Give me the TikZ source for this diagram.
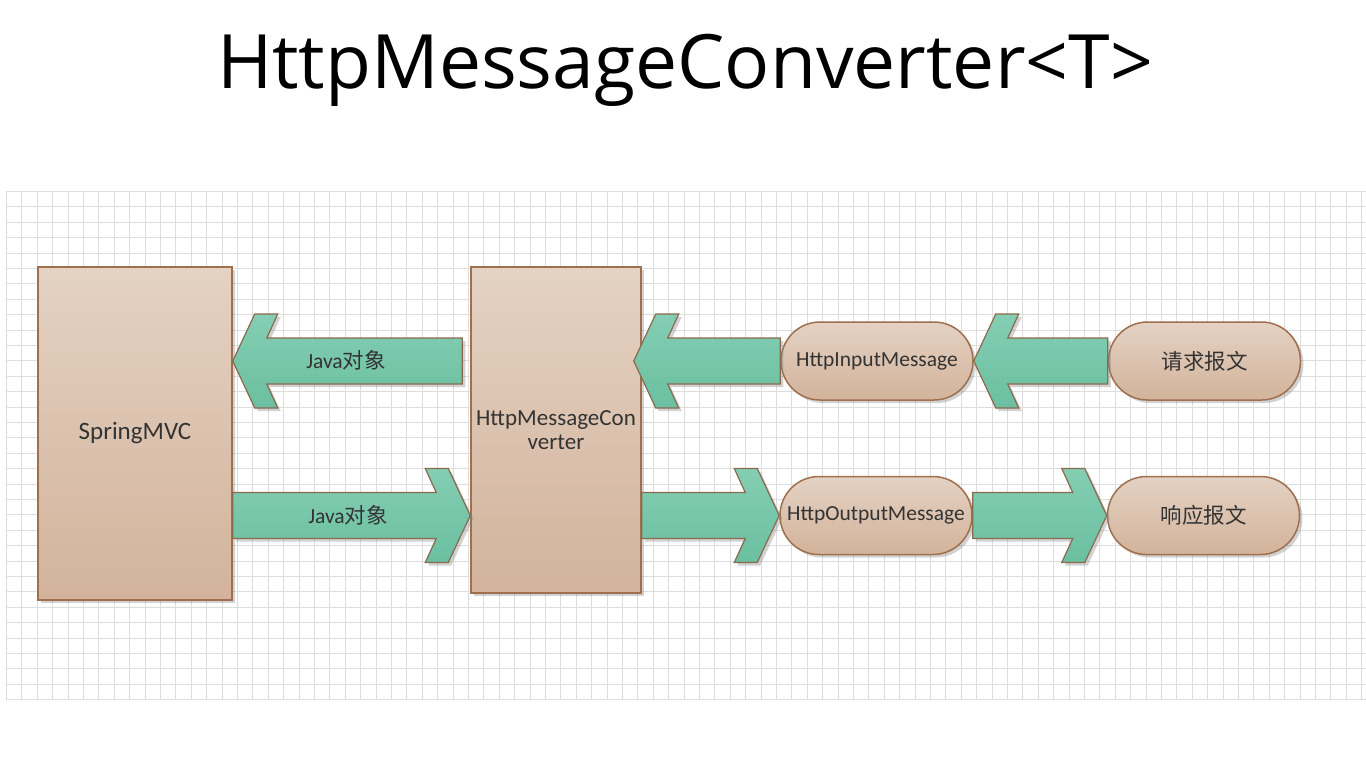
\documentclass[tikz,border=0pt]{standalone}
\usepackage{fontspec}
\setmainfont{Carlito}
\newfontfamily\titlefont{Open Sans}
\newfontfamily\cjk{Noto Sans CJK SC}
\usetikzlibrary{positioning}
\usetikzlibrary{calc}
\usetikzlibrary{shadows}
\usetikzlibrary{shapes.misc}

\definecolor{boxtop}{HTML}{E4D2C3}
\definecolor{boxbot}{HTML}{D3B39B}
\definecolor{boxline}{HTML}{A0704E}
\definecolor{arrtop}{HTML}{84CEB4}
\definecolor{arrbot}{HTML}{6BBFA1}
\definecolor{arrline}{HTML}{8A6A4C}
\definecolor{gridline}{HTML}{DDDDDD}
\definecolor{txt}{HTML}{333333}

% block arrow: tail, tip, direction (1 right, -1 left)
\newcommand{\flowarrow}[3]{%
  \draw[flowarr] (#2) -- ++({-22*(#3)},-47) -- ++({-23*(#3)},0) -- ++({11*(#3)},24)
    -- ($(#2 -| #1)+(0,-23)$) -- ($(#2 -| #1)+(0,23)$) -- ($(#2)+({-34*(#3)},23)$)
    -- ++({-11*(#3)},24) -- ++({23*(#3)},0) -- cycle;}

\begin{document}
\begin{tikzpicture}[x=1pt,y=-1pt,
  box/.style={draw=boxline,line width=1.5pt,top color=boxtop,bottom color=boxbot,text=txt,align=center,
    drop shadow={shadow xshift=3pt,shadow yshift=-3pt,opacity=0.35}},
  pill/.style={box,rounded rectangle,minimum width=192pt,minimum height=78pt,inner sep=0pt,
    font=\fontsize{21.5}{25}\selectfont},
  flowarr/.style={draw=arrline,line width=1.2pt,top color=arrtop,bottom color=arrbot,
    drop shadow={shadow xshift=3pt,shadow yshift=-3pt,opacity=0.35}},
  arrtext/.style={text=txt,font=\fontsize{21.5}{25}\selectfont}]
  \useasboundingbox[fill=white] (0,0) rectangle (1366,766);
  % grid
  \foreach \i in {0,...,88} \draw[gridline,line width=1pt] ({round(6+15.4*\i)},191) -- ({round(6+15.4*\i)},700);
  \foreach \j in {0,...,33} \draw[gridline,line width=1pt] (6,{round(191+15.4*\j)}) -- (1366,{round(191+15.4*\j)});

  \node[anchor=base,font=\titlefont\fontsize{75}{80}\selectfont] (title) at (685,88) {HttpMessageConverter<T>};

  \node[box,minimum width=194pt,minimum height=333pt,font=\fontsize{25}{28}\selectfont] (mvc) at (135,433.5) {SpringMVC};
  \node[box,minimum width=170pt,minimum height=326pt,font=\fontsize{23}{24.5}\selectfont] (conv) at (556,430) {HttpMessageCon\\verter};
  \node[pill] (inmsg) at (877,361) {HttpInputMessage};
  \node[pill,right=134pt of inmsg] (req) {{\cjk 请求报文}};
  \node[pill] (outmsg) at (876,515.5) {HttpOutputMessage};
  \node[pill,right=134pt of outmsg] (resp) {{\cjk 响应报文}};

  \coordinate (a1tip) at ($(mvc.east |- inmsg)$);
  \coordinate (a1tail) at ($(conv.west)+(-8,0)$);
  \coordinate (a3tip) at ($(conv.east |- inmsg)+(-8,0)$);
  \flowarrow{a1tail}{a1tip}{-1}
  \flowarrow{mvc.east}{conv.west |- outmsg}{1}
  \flowarrow{inmsg.west}{a3tip}{-1}
  \flowarrow{req.west}{inmsg.east}{-1}
  \flowarrow{conv.east}{outmsg.west}{1}
  \flowarrow{outmsg.east}{resp.west}{1}

  \node[arrtext] (obj1) at (346,360) {Java{\cjk 对象}};
  \node[arrtext] (obj2) at (348,515) {Java{\cjk 对象}};
\end{tikzpicture}
\end{document}
